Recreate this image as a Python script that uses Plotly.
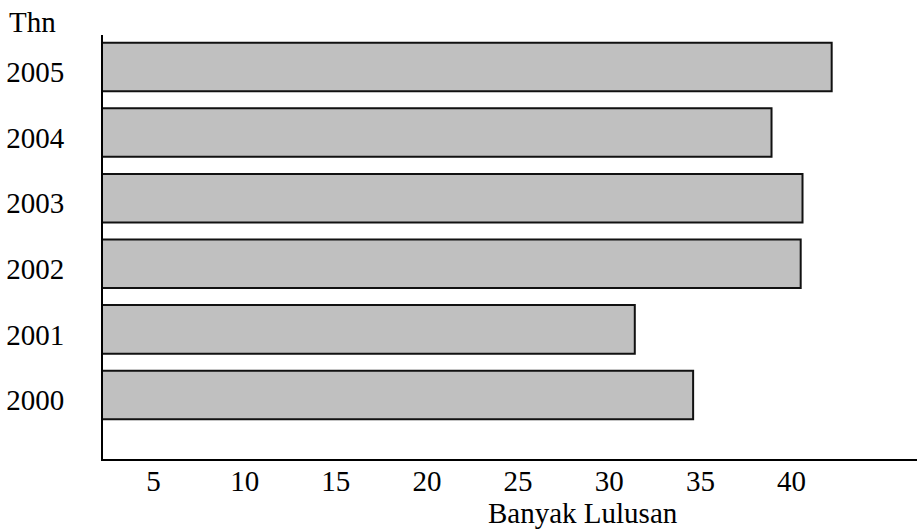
import plotly.graph_objects as go

# Banyak lulusan per tahun
tahun = ["2000", "2001", "2002", "2003", "2004", "2005"]
lulusan = [34.6, 31.4, 40.5, 40.6, 38.9, 42.2]
x_ticks = [5, 10, 15, 20, 25, 30, 35, 40]

FONT = "Liberation Serif"
FS = 29

fig = go.Figure(
    go.Bar(
        y=tahun,
        x=lulusan,
        orientation="h",
        width=0.74,
        marker=dict(color="#c0c0c0", line=dict(color="#111111", width=2)),
        hoverinfo="skip",
    )
)

fig.update_layout(
    width=919,
    height=530,
    margin=dict(l=103, r=2, t=35, b=71),
    paper_bgcolor="white",
    plot_bgcolor="white",
    showlegend=False,
    font=dict(family=FONT, size=FS, color="black"),
    xaxis=dict(
        range=[2.23, 46.88],
        tickvals=x_ticks,
        ticktext=[str(v) for v in x_ticks],
        showgrid=False,
        zeroline=False,
        showline=True,
        linecolor="black",
        linewidth=2,
        ticks="",
        ticklabelstandoff=-5,
        tickfont=dict(family=FONT, size=FS, color="black"),
    ),
    yaxis=dict(
        type="category",
        categoryorder="array",
        categoryarray=tahun,
        range=[-0.976, 5.488],
        showgrid=False,
        zeroline=False,
        showline=True,
        linecolor="black",
        linewidth=2,
        ticks="",
        ticklabelstandoff=31,
        ticklabelshift=5,
        tickfont=dict(family=FONT, size=FS, color="black"),
    ),
    annotations=[
        dict(
            text="Thn", xref="paper", yref="paper",
            x=-0.118, y=1.031, xanchor="left", yanchor="middle",
            showarrow=False, font=dict(family=FONT, size=FS, color="black"),
        ),
        dict(
            text="Banyak Lulusan", xref="paper", yref="paper",
            x=0.59, y=-0.128, xanchor="center", yanchor="middle",
            showarrow=False, font=dict(family=FONT, size=FS, color="black"),
        ),
    ],
)

fig.write_html("out.html")
